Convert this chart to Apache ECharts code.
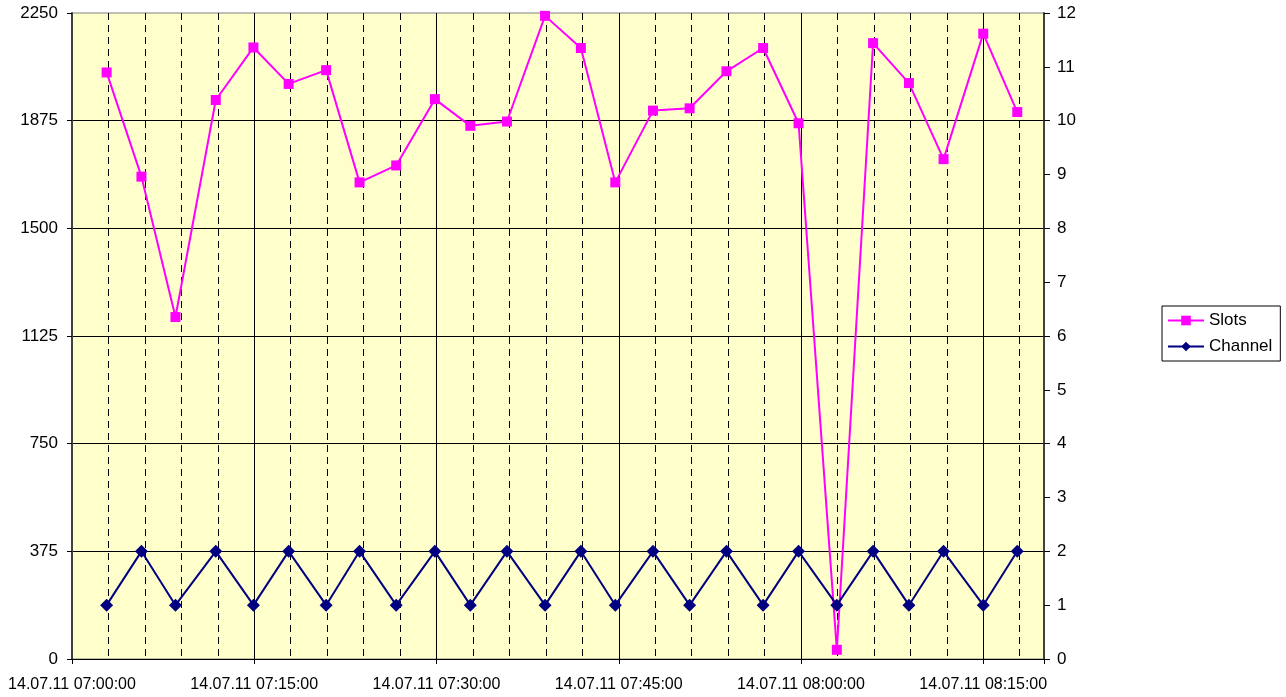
<!DOCTYPE html>
<html>
<head>
<meta charset="utf-8">
<title>Slots / Channel</title>
<script src="https://cdn.jsdelivr.net/npm/echarts@6/dist/echarts.min.js"></script>
<style>
	html, body {margin:0; padding:0; background:#ffffff;}
	#chart {width:1286px; height:697px;}
</style>
</head>
<body>
<div id="chart"></div>
<script>
// sample times (14.07.11)
var times = ['07:02:51', '07:05:43', '07:08:31', '07:11:50', '07:14:56', '07:17:50', '07:20:55',
	'07:23:40', '07:26:41', '07:29:52', '07:32:47', '07:35:48', '07:38:56', '07:41:53',
	'07:44:43', '07:47:49', '07:50:50', '07:53:52', '07:56:53', '07:59:48', '08:02:57',
	'08:05:56', '08:08:53', '08:11:44', '08:15:00', '08:17:48'];
var slots = [2043, 1680, 1191, 1947, 2130, 2003, 2051, 1660, 1719, 1950, 1857, 1872, 2240,
	2128, 1660, 1910, 1918, 2047, 2128, 1866, 32, 2145, 2006, 1741, 2178, 1905];
var channel = [1, 2, 1, 2, 1, 2, 1, 2, 1, 2, 1, 2, 1, 2, 1, 2, 1, 2, 1, 2, 1, 2, 1, 2, 1, 2];

// axis ranges
var xStart = '07:00:00', xEnd = '08:20:00';
var leftMax = 2250, leftStep = 375;
var rightMax = 12, rightStep = 1;

function toMs(t) {
	var p = t.split(':');
	return Date.UTC(2011, 6, 14, +p[0], +p[1], +p[2]);
}
function pad(n) {
	return (n < 10 ? '0' : '') + n;
}
function fmtTime(v) {
	var d = new Date(v);
	return pad(d.getUTCDate()) + '.' + pad(d.getUTCMonth() + 1) + '.' + pad(d.getUTCFullYear() % 100)
		+ ' ' + pad(d.getUTCHours()) + ':' + pad(d.getUTCMinutes()) + ':' + pad(d.getUTCSeconds());
}

var xMin = toMs(xStart), xMax = toMs(xEnd);
var major = 15 * 60000, minor = 3 * 60000;

var slotsData = [], channelData = [];
for (var i = 0; i < times.length; i++) {
	slotsData.push([toMs(times[i]), slots[i]]);
	channelData.push([toMs(times[i]), channel[i]]);
}

var font = 'Liberation Sans, Arial, sans-serif';
var chart = echarts.init(document.getElementById('chart'));
var option = {
	backgroundColor: '#ffffff',
	animation: false,
	grid: {
		show: true,
		left: 72, right: 242, top: 13, bottom: 38,
		backgroundColor: '#ffffcc',
		borderColor: '#808080',
		borderWidth: 1
	},
	legend: {
		orient: 'vertical',
		left: 1162, top: 306,
		padding: [6, 8, 6, 5],
		itemGap: 9,
		itemWidth: 36, itemHeight: 12,
		borderColor: '#000000', borderWidth: 1,
		textStyle: {fontFamily: font, fontSize: 17, color: '#000000'},
		data: ['Slots', 'Channel']
	},
	xAxis: [
		{	// 3 minute dashed grid
			type: 'value', position: 'bottom', min: xMin, max: xMax, interval: minor,
			axisLine: {show: false}, axisTick: {show: false}, axisLabel: {show: false},
			splitLine: {show: true, showMinLine: false, showMaxLine: false,
				lineStyle: {color: '#000000', width: 1, type: [7, 5]}}
		},
		{	// 15 minute solid grid + labels
			type: 'value', position: 'bottom', min: xMin, max: xMax, interval: major,
			axisLine: {show: true, lineStyle: {color: '#000000', width: 1}},
			axisTick: {show: true, length: 5, lineStyle: {color: '#000000'}},
			axisLabel: {
				fontFamily: font, fontSize: 16, color: '#000000', margin: 18,
				formatter: function (v) {
					if ((v - xMin) % major !== 0) return '';
					return fmtTime(v);
				}
			},
			splitLine: {show: true, showMinLine: false, showMaxLine: false,
				lineStyle: {color: '#000000', width: 1}}
		}
	],
	yAxis: [
		{
			type: 'value', min: 0, max: leftMax, interval: leftStep,
			axisLine: {show: true, lineStyle: {color: '#404040', width: 2}},
			axisTick: {show: true, length: 5, lineStyle: {color: '#000000'}},
			axisLabel: {fontFamily: font, fontSize: 17, color: '#000000', margin: 14,
				formatter: function (v) { return String(v); }},
			splitLine: {show: true, showMinLine: false, showMaxLine: false,
				lineStyle: {color: '#000000', width: 1}}
		},
		{
			type: 'value', min: 0, max: rightMax, interval: rightStep, position: 'right',
			axisLine: {show: true, lineStyle: {color: '#404040', width: 2}},
			axisTick: {show: true, length: 6, lineStyle: {color: '#000000'}},
			axisLabel: {fontFamily: font, fontSize: 17, color: '#000000', margin: 13,
				formatter: function (v) { return String(v); }},
			splitLine: {show: false}
		}
	],
	series: [
		{
			name: 'Slots', type: 'line', xAxisIndex: 0, yAxisIndex: 0,
			data: slotsData,
			symbol: 'rect', symbolSize: 10,
			itemStyle: {color: '#ff00ff'},
			lineStyle: {color: '#ff00ff', width: 2}
		},
		{
			name: 'Channel', type: 'line', xAxisIndex: 0, yAxisIndex: 1,
			data: channelData,
			symbol: 'diamond', symbolSize: 13,
			itemStyle: {color: '#000080'},
			lineStyle: {color: '#000080', width: 2}
		}
	]
};
chart.setOption(option);
</script>
</body>
</html>
